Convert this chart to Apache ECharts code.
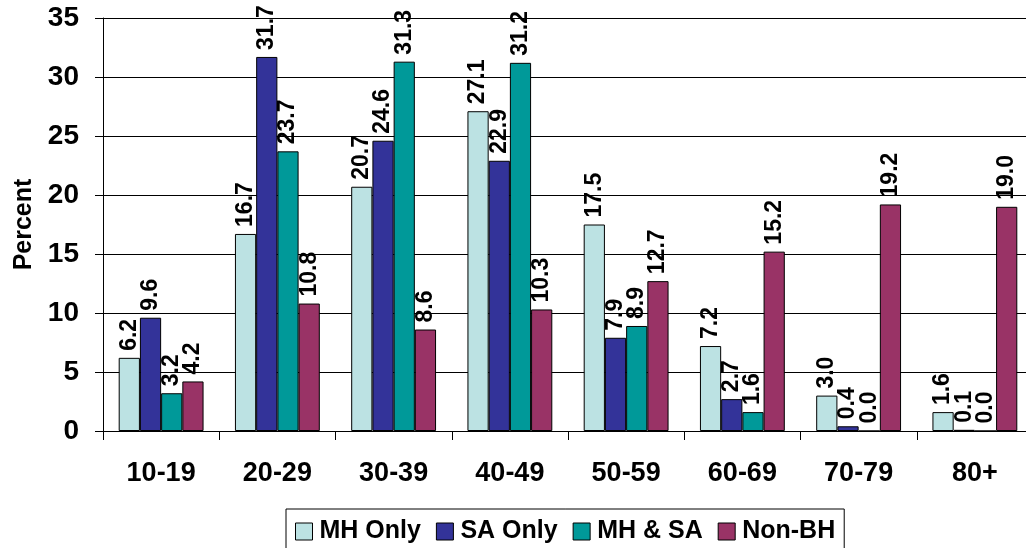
<!DOCTYPE html>
<html>
<head>
<meta charset="utf-8">
<style>
  html, body { margin: 0; padding: 0; background: #fff; }
  #chart { width: 1026px; height: 548px; }
</style>
<script src="https://cdn.jsdelivr.net/npm/echarts@6/dist/echarts.min.js"></script>
</head>
<body>
<div id="chart"></div>
<script>
// Age groups on the category axis
const ageGroups = ['10-19', '20-29', '30-39', '40-49', '50-59', '60-69', '70-79', '80+'];

// Percent of each group by age
const mhOnly = [6.2, 16.7, 20.7, 27.1, 17.5, 7.2, 3.0, 1.6];
const saOnly = [9.6, 31.7, 24.6, 22.9, 7.9, 2.7, 0.4, 0.1];
const mhAndSa = [3.2, 23.7, 31.3, 31.2, 8.9, 1.6, 0.0, 0.0];
const nonBh = [4.2, 10.8, 8.6, 10.3, 12.7, 15.2, 19.2, 19.0];

const seriesNames = ['MH Only', 'SA Only', 'MH & SA', 'Non-BH'];
const seriesColors = ['#BCE2E3', '#333399', '#009999', '#993366'];
const seriesData = [mhOnly, saOnly, mhAndSa, nonBh];

const FONT = '"Liberation Sans", Arial, sans-serif';

const chart = echarts.init(document.getElementById('chart'), null, { renderer: 'canvas' });

chart.setOption({
  animation: false,
  backgroundColor: '#fff',
  textStyle: { fontFamily: FONT, color: '#000' },
  grid: { left: 103, top: 18, right: -7, bottom: 117, containLabel: false, outerBoundsMode: 'none' },
  legend: {
    data: seriesNames,
    left: 286,
    top: 509,
    padding: [10, 9, 9, 9],
    borderColor: '#000',
    borderWidth: 1,
    itemWidth: 17,
    itemHeight: 17,
    itemGap: 15,
    icon: 'rect',
    itemStyle: { borderColor: '#000', borderWidth: 1 },
    textStyle: { fontFamily: FONT, fontSize: 25, fontWeight: 'bold', color: '#000', padding: [0, 0, 0, 2] }
  },
  xAxis: {
    type: 'category',
    data: ageGroups,
    axisLine: { lineStyle: { color: '#000', width: 1 } },
    axisTick: { show: true, length: 9, lineStyle: { color: '#000' } },
    axisLabel: { fontFamily: FONT, fontSize: 27, fontWeight: 'bold', color: '#000', margin: 29 }
  },
  yAxis: {
    type: 'value',
    min: 0,
    max: 35,
    interval: 5,
    name: 'Percent',
    nameLocation: 'middle',
    nameGap: 65,
    nameTextStyle: { fontFamily: FONT, fontSize: 25, fontWeight: 'bold', color: '#000' },
    axisLine: { show: true, lineStyle: { color: '#000', width: 1 } },
    axisTick: { show: true, length: 8, lineStyle: { color: '#000' } },
    axisLabel: { fontFamily: FONT, fontSize: 28, fontWeight: 'bold', color: '#000', margin: 24 },
    splitLine: { show: true, lineStyle: { color: '#000', width: 1 } }
  },
  series: seriesNames.map((name, i) => ({
    name: name,
    type: 'bar',
    data: seriesData[i],
    barGap: '0%',
    barCategoryGap: '27%',
    itemStyle: { color: seriesColors[i], borderColor: '#000', borderWidth: 1 },
    label: {
      show: true,
      position: 'top',
      rotate: 90,
      align: 'left',
      verticalAlign: 'middle',
      distance: 7,
      fontFamily: FONT,
      fontSize: 23,
      fontWeight: 'bold',
      color: '#000',
      formatter: p => p.value.toFixed(1)
    }
  }))
});
</script>
</body>
</html>
